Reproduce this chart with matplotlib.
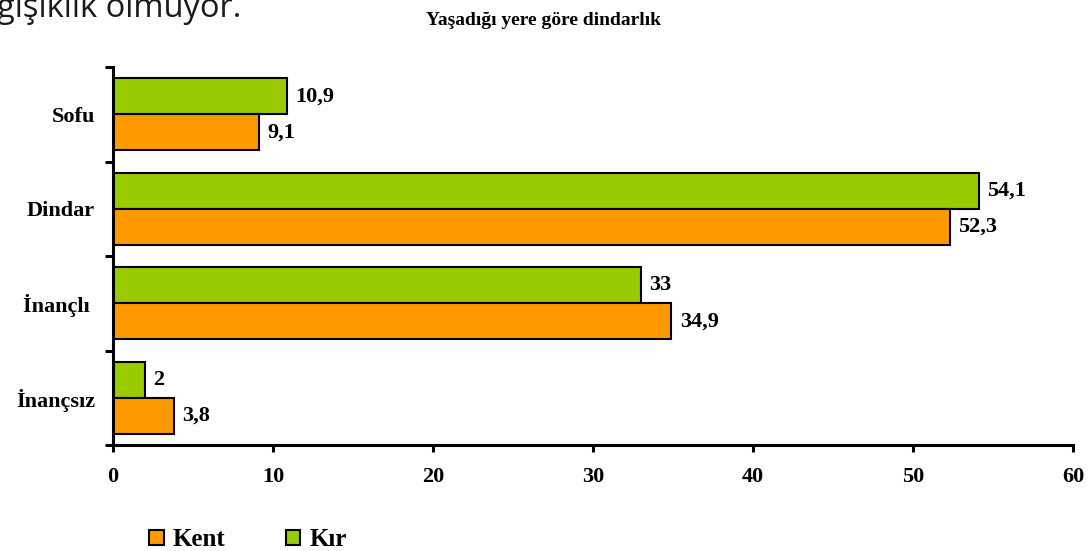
import numpy as np
import matplotlib
matplotlib.use("Agg")
import matplotlib.pyplot as plt
from matplotlib.patches import Patch

# data
categories = ["Sofu", "Dindar", "İnançlı ", "İnançsız"]
kent = [9.1, 52.3, 34.9, 3.8]
kir = [10.9, 54.1, 33, 2]
x_ticks = [0, 10, 20, 30, 40, 50, 60]

ORANGE = "#FF9900"
GREEN = "#99CC00"
SERIF = "Liberation Serif"

W, H = 1090, 551
fig = plt.figure(figsize=(W / 100, H / 100), dpi=100)

# cut off text from the page above the chart
fig.text(-0.003, 1 - 17 / H, "ğişiklik olmuyor.", family="Open Sans",
         fontsize=23.5, color="#1a1a1a", va="baseline", ha="left")

fig.text(543 / W, 1 - 25 / H, "Yaşadığı yere göre dindarlık", family=SERIF,
         fontweight="bold", fontsize=14, ha="center", va="baseline")

ax = fig.add_axes([113 / W, 1 - 445 / H, (1073 - 113) / W, (445 - 67) / H])

y = np.arange(len(categories))[::-1]
h = 0.38
off = 0.19
ax.barh(y + off, kir, height=h, color=GREEN, edgecolor="black", linewidth=1.5, label="Kır")
ax.barh(y - off, kent, height=h, color=ORANGE, edgecolor="black", linewidth=1.5, label="Kent")

def fmt(v):
    return f"{v:g}".replace(".", ",")

for yi, a, b in zip(y, kir, kent):
    ax.annotate(fmt(a), (a, yi + off), xytext=(6, 0), textcoords="offset points",
                va="center", ha="left", family=SERIF, fontweight="bold", fontsize=16)
    ax.annotate(fmt(b), (b, yi - off), xytext=(6, 0), textcoords="offset points",
                va="center", ha="left", family=SERIF, fontweight="bold", fontsize=16)

ax.set_xlim(0, 60)
ax.set_ylim(-0.5, len(categories) - 0.5)

# boundaries ticks on y, category names as minor ticks
ax.set_yticks(np.arange(-0.5, len(categories), 1.0))
ax.set_yticklabels([])
ax.set_yticks(y, minor=True)
ax.set_yticklabels(categories, minor=True, family=SERIF, fontweight="bold", fontsize=16)
ax.tick_params(axis="y", which="major", length=6, width=2.2, direction="out")
ax.tick_params(axis="y", which="minor", length=0, pad=13)

ax.set_xticks(x_ticks)
ax.set_xticklabels([str(t) for t in x_ticks], family=SERIF, fontweight="bold", fontsize=16)
ax.tick_params(axis="x", length=5, width=2.2, direction="out", pad=11)

for s in ["top", "right"]:
    ax.spines[s].set_visible(False)
for s in ["left", "bottom"]:
    ax.spines[s].set_linewidth(2.2)

handles = [Patch(facecolor=ORANGE, edgecolor="black", linewidth=1.5, label="Kent"),
           Patch(facecolor=GREEN, edgecolor="black", linewidth=1.5, label="Kır")]
fig.legend(handles=handles, loc="center left", bbox_to_anchor=(149 / W, 1 - 540 / H),
           ncol=2, frameon=False, handlelength=0.58, handleheight=0.58,
           handletextpad=0.38, columnspacing=2.4, borderpad=0, borderaxespad=0,
           prop={"family": SERIF, "weight": "bold", "size": 18})

fig.savefig("out.png", dpi=100)
